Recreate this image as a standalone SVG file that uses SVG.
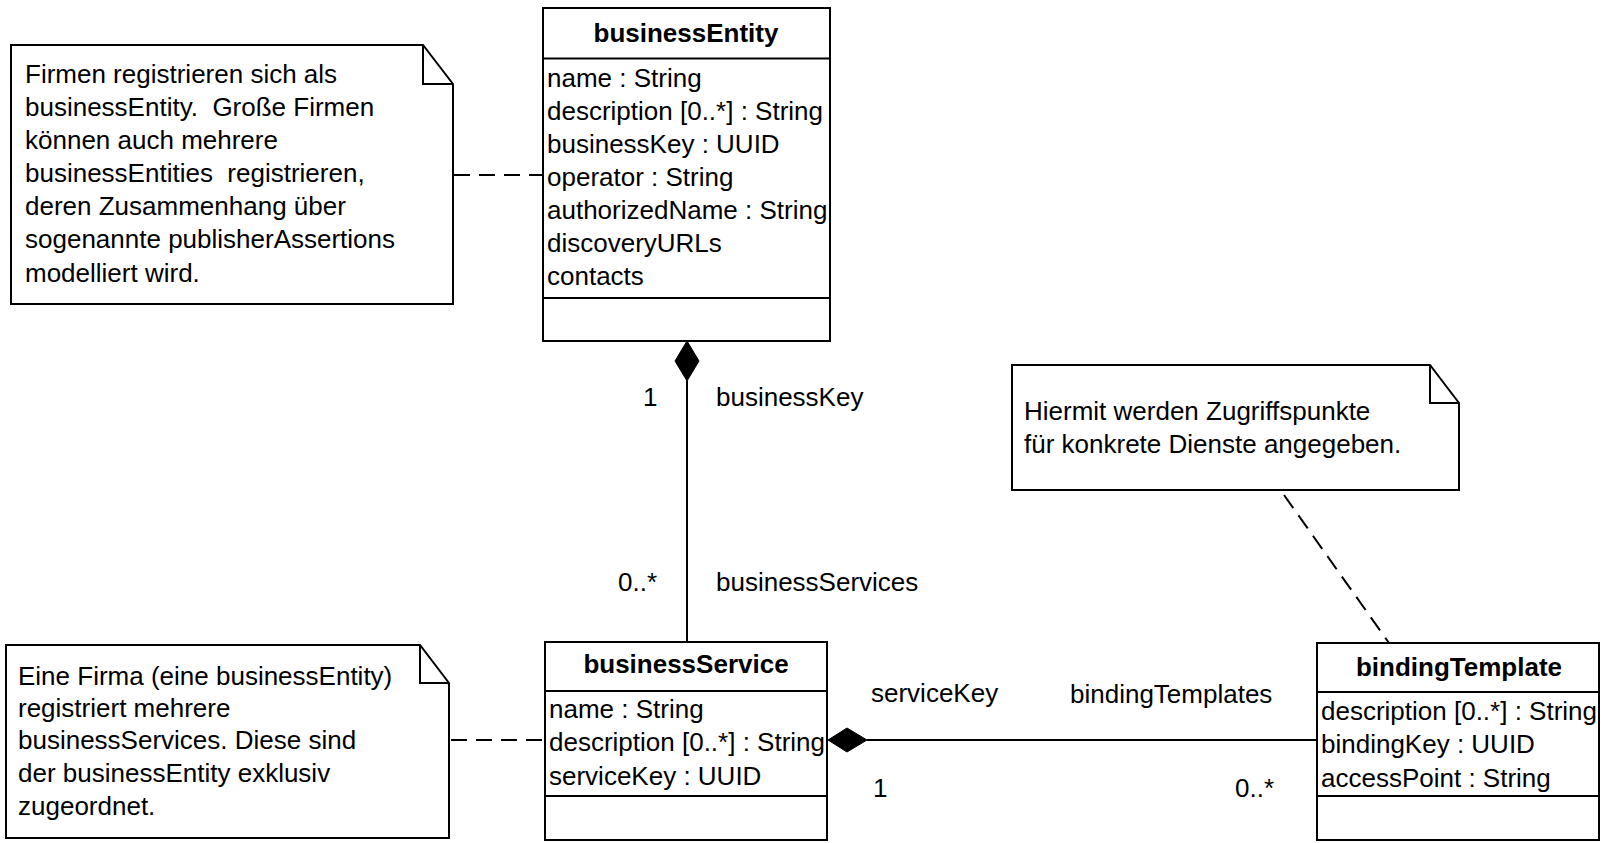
<svg xmlns="http://www.w3.org/2000/svg" width="1607" height="843" viewBox="0 0 1607 843">
<style>
text{font-family:"Liberation Sans",Arial,sans-serif;font-size:26px;fill:#000}
.t{font-weight:bold;text-anchor:middle}
.box{fill:#fff;stroke:#000;stroke-width:2}
.ln{stroke:#000;stroke-width:2;fill:none}
.dash{stroke:#000;stroke-width:2;fill:none;stroke-dasharray:16 9}
</style>
<rect width="1607" height="843" fill="#fff"/>
<g id="note1">
<path class="box" d="M11,45 H423 L453,84 V304 H11 Z"/>
<path class="ln" d="M423,45 V84 H453"/>
<text x="25" y="83">Firmen registrieren sich als</text>
<text x="25" y="116" xml:space="preserve">businessEntity.  Große Firmen</text>
<text x="25" y="149">können auch mehrere</text>
<text x="25" y="182" xml:space="preserve">businessEntities  registrieren,</text>
<text x="25" y="215">deren Zusammenhang über</text>
<text x="25" y="248">sogenannte publisherAssertions</text>
<text x="25" y="282">modelliert wird.</text>
</g>
<g id="businessEntity">
<rect class="box" x="543" y="8" width="287" height="333"/>
<path class="ln" d="M543,58.5 H830 M543,298 H830"/>
<text class="t" x="686" y="42">businessEntity</text>
<text x="547" y="87">name : String</text>
<text x="547" y="120">description [0..*] : String</text>
<text x="547" y="153">businessKey : UUID</text>
<text x="547" y="186">operator : String</text>
<text x="547" y="219">authorizedName : String</text>
<text x="547" y="252">discoveryURLs</text>
<text x="547" y="285">contacts</text>
</g>
<g id="note2">
<path class="box" d="M6,645 H420 L449,683 V838 H6 Z"/>
<path class="ln" d="M420,645 V683 H449"/>
<text x="18" y="685">Eine Firma (eine businessEntity)</text>
<text x="18" y="717">registriert mehrere</text>
<text x="18" y="749">businessServices. Diese sind</text>
<text x="18" y="782">der businessEntity exklusiv</text>
<text x="18" y="815">zugeordnet.</text>
</g>
<g id="businessService">
<rect class="box" x="545" y="642" width="282" height="198"/>
<path class="ln" d="M545,691 H827 M545,796 H827"/>
<text class="t" x="686" y="673">businessService</text>
<text x="549" y="718">name : String</text>
<text x="549" y="751">description [0..*] : String</text>
<text x="549" y="785">serviceKey : UUID</text>
</g>
<g id="note3">
<path class="box" d="M1012,365 H1430 L1459,403 V490 H1012 Z"/>
<path class="ln" d="M1430,365 V403 H1459"/>
<text x="1024" y="420">Hiermit werden Zugriffspunkte</text>
<text x="1024" y="453">für konkrete Dienste angegeben.</text>
</g>
<g id="bindingTemplate">
<rect class="box" x="1317" y="643" width="282" height="197"/>
<path class="ln" d="M1317,692 H1599 M1317,796 H1599"/>
<text class="t" x="1459" y="676">bindingTemplate</text>
<text x="1321" y="720">description [0..*] : String</text>
<text x="1321" y="753">bindingKey : UUID</text>
<text x="1321" y="787">accessPoint : String</text>
</g>
<g id="connectors">
<path class="dash" d="M454,175 H543"/>
<path class="dash" d="M451,740 H545"/>
<path class="dash" d="M1284,495 L1389,643"/>
<path class="ln" d="M687,381 V642"/>
<path d="M687,341 L699,361 L687,381 L675,361 Z" fill="#000" stroke="#000" stroke-width="1"/>
<path class="ln" d="M867,740 H1317"/>
<path d="M828,740 L847,728 L867,740 L847,752 Z" fill="#000" stroke="#000" stroke-width="1"/>
<text x="643" y="406">1</text>
<text x="716" y="406">businessKey</text>
<text x="618" y="591">0..*</text>
<text x="716" y="591">businessServices</text>
<text x="871" y="702">serviceKey</text>
<text x="1070" y="703">bindingTemplates</text>
<text x="873" y="797">1</text>
<text x="1235" y="797">0..*</text>
</g>
</svg>
